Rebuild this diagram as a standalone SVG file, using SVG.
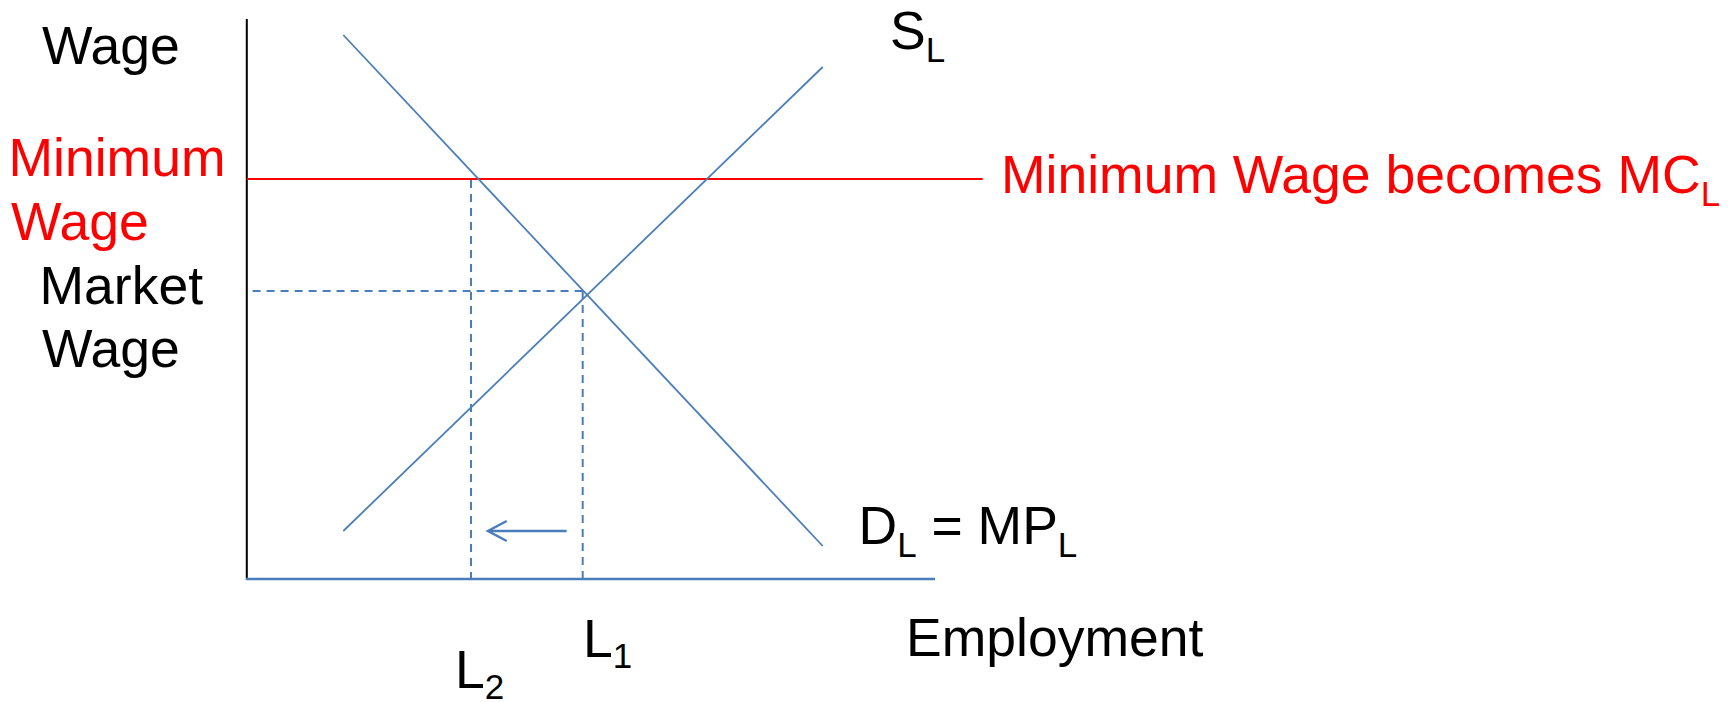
<svg xmlns="http://www.w3.org/2000/svg" width="1732" height="702" viewBox="0 0 1732 702">
<style>
text{font-family:"Liberation Sans",Arial,sans-serif;font-size:53.5px;fill:#000}
.red{fill:#ff0000}
.sub{font-size:35px}
.curve{stroke:#4a7ebb;stroke-width:1.8;fill:none}
.dash{stroke:#4a7ebb;stroke-width:2;stroke-dasharray:8 6;fill:none}
</style>
<rect width="1732" height="702" fill="#fff"/>
<g id="connectors">
<line id="y-axis" x1="246.8" y1="19" x2="246.8" y2="580" stroke="#000" stroke-width="2"/>
<line id="x-axis" x1="246" y1="579" x2="935" y2="579" stroke="#4a7ebb" stroke-width="2.5"/>
<line id="min-wage-line" x1="247" y1="179" x2="982.7" y2="179" stroke="#ff0000" stroke-width="2.2"/>
<line id="demand" class="curve" x1="343.3" y1="35" x2="822.7" y2="546"/>
<line id="supply" class="curve" x1="343.3" y1="531" x2="822.7" y2="67"/>
<line class="dash" x1="471" y1="180" x2="471" y2="578"/>
<line class="dash" x1="582.7" y1="291" x2="582.7" y2="578"/>
<line class="dash" x1="252.6" y1="291" x2="583" y2="291"/>
<g id="shift-arrow" stroke="#4a7ebb" stroke-width="2.5" fill="none">
<line x1="566.7" y1="531" x2="489" y2="531"/>
<polyline points="506.7,521 488,531 506.7,541"/>
</g>
</g>
<g id="label-wage"><text x="42" y="64">Wage</text></g>
<g id="label-minimum-wage"><text class="red" x="8.5" y="176">Minimum</text><text class="red" x="11" y="240">Wage</text></g>
<g id="label-market-wage"><text x="39.5" y="304">Market</text><text x="42" y="367">Wage</text></g>
<g id="label-supply"><text x="890" y="49">S<tspan class="sub" dy="12.7">L</tspan></text></g>
<g id="label-mc"><text class="red" x="1001" y="192.7">Minimum Wage becomes MC<tspan class="sub" dy="13">L</tspan></text></g>
<g id="label-demand"><text x="858.5" y="543.5">D<tspan class="sub" dy="13.5">L</tspan><tspan dy="-13.5"> = MP</tspan><tspan class="sub" dy="13.5">L</tspan></text></g>
<g id="label-l1"><text x="583" y="656.7">L<tspan class="sub" dy="11.6">1</tspan></text></g>
<g id="label-l2"><text x="455" y="687.5">L<tspan class="sub" dy="11.5">2</tspan></text></g>
<g id="label-employment"><text x="906" y="656">Employment</text></g>
</svg>
